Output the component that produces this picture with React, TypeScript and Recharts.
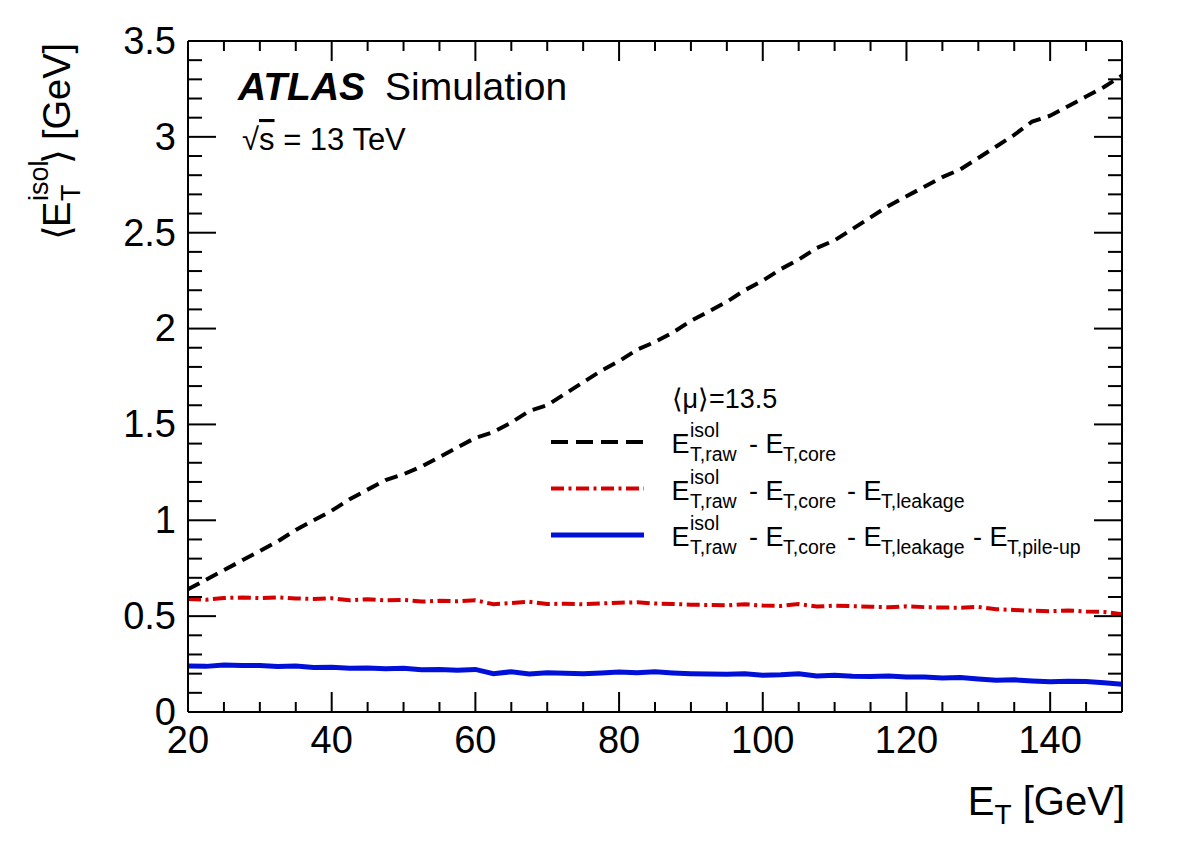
import { LineChart, Line, XAxis, YAxis } from "recharts";

// E_T bin centres [GeV]
const etBins = [
  20, 22.5, 25, 27.5, 30, 32.5, 35, 37.5, 40, 42.5,
  45, 47.5, 50, 52.5, 55, 57.5, 60, 62.5, 65, 67.5,
  70, 72.5, 75, 77.5, 80, 82.5, 85, 87.5, 90, 92.5,
  95, 97.5, 100, 102.5, 105, 107.5, 110, 112.5, 115, 117.5,
  120, 122.5, 125, 127.5, 130, 132.5, 135, 137.5, 140, 142.5,
  145, 147.5, 150,
];

// <E_T^isol> [GeV]
const rawMinusCore = [
  0.64, 0.69, 0.74, 0.79, 0.84, 0.89, 0.95, 1.0, 1.05, 1.11,
  1.16, 1.21, 1.24, 1.28, 1.33, 1.38, 1.43, 1.46, 1.51, 1.57,
  1.6, 1.66, 1.72, 1.78, 1.83, 1.89, 1.93, 1.98, 2.04, 2.09,
  2.14, 2.2, 2.25, 2.31, 2.36, 2.42, 2.46, 2.52, 2.58, 2.64,
  2.69, 2.74, 2.79, 2.83, 2.89, 2.95, 3.01, 3.08, 3.11, 3.16,
  3.21, 3.26, 3.32,
];
const minusLeakage = [
  0.59, 0.585, 0.595, 0.597, 0.594, 0.598, 0.592, 0.59, 0.593, 0.583,
  0.588, 0.582, 0.585, 0.576, 0.58, 0.578, 0.583, 0.562, 0.568, 0.575,
  0.563, 0.565, 0.562, 0.566, 0.57, 0.572, 0.566, 0.563, 0.56, 0.558,
  0.556, 0.562, 0.555, 0.553, 0.563, 0.55, 0.555, 0.552, 0.549, 0.546,
  0.551, 0.547, 0.545, 0.544, 0.548, 0.536, 0.532, 0.528, 0.526, 0.53,
  0.524, 0.522, 0.51,
];
const minusPileup = [
  0.24, 0.238, 0.245, 0.242, 0.243, 0.237, 0.24, 0.232, 0.234, 0.228,
  0.23, 0.226, 0.228, 0.22, 0.222, 0.218, 0.222, 0.2, 0.21, 0.198,
  0.205, 0.202, 0.2, 0.203, 0.208, 0.205, 0.21, 0.204, 0.2, 0.198,
  0.197, 0.199, 0.192, 0.194, 0.199, 0.188, 0.192, 0.187, 0.185, 0.188,
  0.182, 0.183, 0.177, 0.18, 0.172, 0.166, 0.168, 0.162, 0.158, 0.16,
  0.159, 0.152, 0.145,
];

const xTicks = [
  20, 25, 30, 35, 40, 45, 50, 55, 60, 65, 70, 75, 80, 85, 90, 95, 100,
  105, 110, 115, 120, 125, 130, 135, 140, 145, 150,
];
const xLabels = [20, 40, 60, 80, 100, 120, 140];
const yTicks = [
  0, 0.1, 0.2, 0.3, 0.4, 0.5, 0.6, 0.7, 0.8, 0.9, 1, 1.1, 1.2, 1.3, 1.4,
  1.5, 1.6, 1.7, 1.8, 1.9, 2, 2.1, 2.2, 2.3, 2.4, 2.5, 2.6, 2.7, 2.8, 2.9,
  3, 3.1, 3.2, 3.3, 3.4, 3.5,
];
const yLabels = [0, 0.5, 1, 1.5, 2, 2.5, 3, 3.5];

const rows = etBins.map((et, i) => ({
  et,
  raw: rawMinusCore[i],
  leak: minusLeakage[i],
  pu: minusPileup[i],
}));

const W = 1166;
const H = 832;
const FONT = '"Liberation Sans", Arial, Helvetica, sans-serif';
const BLACK_DASH = "13 7.5";
const RED_DASH = "13 4.5 3 4.5";
const RED = "#d40000";
const BLUE = "#0010d8";

const BottomTick = (p: any) => {
  const major = xLabels.includes(p.payload.value);
  return (
    <g>
      <line x1={p.x} x2={p.x} y1={p.y} y2={p.y - (major ? 20 : 10)} stroke="#000" strokeWidth={2} />
      {major && (
        <text x={p.x} y={p.y + 41} textAnchor="middle" fontSize={38} fontFamily={FONT} fill="#000">
          {p.payload.value}
        </text>
      )}
    </g>
  );
};

const TopTick = (p: any) => {
  const major = xLabels.includes(p.payload.value);
  return <line x1={p.x} x2={p.x} y1={p.y} y2={p.y + (major ? 20 : 10)} stroke="#000" strokeWidth={2} />;
};

const LeftTick = (p: any) => {
  const major = yLabels.includes(p.payload.value);
  return (
    <g>
      <line x1={p.x} x2={p.x + (major ? 28 : 14)} y1={p.y} y2={p.y} stroke="#000" strokeWidth={2} />
      {major && (
        <text x={p.x - 12} y={p.y} dy="0.34em" textAnchor="end" fontSize={38} fontFamily={FONT} fill="#000">
          {String(p.payload.value)}
        </text>
      )}
    </g>
  );
};

const RightTick = (p: any) => {
  const major = yLabels.includes(p.payload.value);
  return <line x1={p.x} x2={p.x - (major ? 28 : 14)} y1={p.y} y2={p.y} stroke="#000" strokeWidth={2} />;
};

const frame = { stroke: "#000", strokeWidth: 2 };

// legend entry: sample line + E^isol_{T,raw} followed by "- E_{T,...}" terms
const LegendRow = ({ y, dash, color, width, parts }: any) => (
  <g>
    <line x1={543} x2={636} y1={y - 11} y2={y - 11} stroke={color} strokeWidth={width} strokeDasharray={dash} />
    <text x={663.5} y={y} fontSize={27}>E</text>
    <text x={682} y={y - 16} fontSize={19.5}>isol</text>
    <text x={682} y={y + 8} fontSize={19.5}>T,raw</text>
    {parts.map((s: any, i: number) => (
      <g key={i}>
        <text x={s[0]} y={y} fontSize={27}>-</text>
        <text x={s[0] + 16.5} y={y} fontSize={27}>E</text>
        <text x={s[0] + 34} y={y + 8} fontSize={19.5}>{s[1]}</text>
      </g>
    ))}
  </g>
);

const App = () => {
  return (
    <div style={{ position: "relative", width: W, height: H }}>
      <LineChart width={W} height={H} data={rows} margin={{ top: 23, right: 42, bottom: 68, left: 80 }}>
        <XAxis
          xAxisId="b"
          dataKey="et"
          type="number"
          domain={[20, 150]}
          ticks={xTicks}
          interval={0}
          allowDataOverflow
          height={60}
          tickSize={0}
          tickMargin={0}
          tickLine={false}
          axisLine={frame}
          tick={BottomTick}
        />
        <XAxis
          xAxisId="t"
          orientation="top"
          dataKey="et"
          type="number"
          domain={[20, 150]}
          ticks={xTicks}
          interval={0}
          allowDataOverflow
          height={10}
          tickSize={0}
          tickMargin={0}
          tickLine={false}
          axisLine={frame}
          tick={TopTick}
        />
        <YAxis
          yAxisId="l"
          type="number"
          domain={[0, 3.5]}
          ticks={yTicks}
          interval={0}
          allowDataOverflow
          width={100}
          tickSize={0}
          tickMargin={0}
          tickLine={false}
          axisLine={frame}
          tick={LeftTick}
        />
        <YAxis
          yAxisId="r"
          orientation="right"
          type="number"
          domain={[0, 3.5]}
          ticks={yTicks}
          interval={0}
          allowDataOverflow
          width={10}
          tickSize={0}
          tickMargin={0}
          tickLine={false}
          axisLine={frame}
          tick={RightTick}
        />
        <Line xAxisId="b" yAxisId="l" type="linear" dataKey="raw" stroke="#000" strokeWidth={4} strokeDasharray={BLACK_DASH} dot={false} isAnimationActive={false} />
        <Line xAxisId="b" yAxisId="l" type="linear" dataKey="leak" stroke={RED} strokeWidth={4} strokeDasharray={RED_DASH} dot={false} isAnimationActive={false} />
        <Line xAxisId="b" yAxisId="l" type="linear" dataKey="pu" stroke={BLUE} strokeWidth={5} dot={false} isAnimationActive={false} />
      </LineChart>

      <svg width={W} height={H} style={{ position: "absolute", left: 0, top: 0, pointerEvents: "none" }} fontFamily={FONT} fill="#000">
        <text x={230} y={92} fontSize={39} fontWeight="bold" fontStyle="italic">ATLAS</text>
        <text x={377} y={92} fontSize={39}>Simulation</text>
        <text x={234} y={142} fontSize={31}>
          √<tspan textDecoration="overline">s</tspan> = 13 TeV
        </text>

        <text x={663.5} y={400} fontSize={27}>⟨μ⟩=13.5</text>
        <LegendRow y={445} dash={"17 8"} color="#000" width={4} parts={[[741, "T,core"]]} />
        <LegendRow y={491.5} dash={RED_DASH} color={RED} width={4} parts={[[741, "T,core"], [839, "T,leakage"]]} />
        <LegendRow y={538} dash={undefined} color={BLUE} width={5} parts={[[741, "T,core"], [839, "T,leakage"], [965, "T,pile-up"]]} />

        {/* x title */}
        <text x={1117} y={807} textAnchor="end" fontSize={40}>
          E<tspan fontSize={28} dy={9}>T</tspan>
          <tspan dy={-9}> [GeV]</tspan>
        </text>

        {/* y title, rotated */}
        <g transform="translate(62, 232) rotate(-90)">
          <text x={0} y={0} fontSize={38}>⟨</text>
          <text x={13} y={0} fontSize={38}>E</text>
          <text x={39} y={10} fontSize={27}>T</text>
          <text x={39} y={-22} fontSize={27}>isol</text>
          <text x={76} y={0} fontSize={38}>⟩</text>
          <text x={100} y={0} fontSize={38}>[GeV]</text>
        </g>
      </svg>
    </div>
  );
};

export default App;
